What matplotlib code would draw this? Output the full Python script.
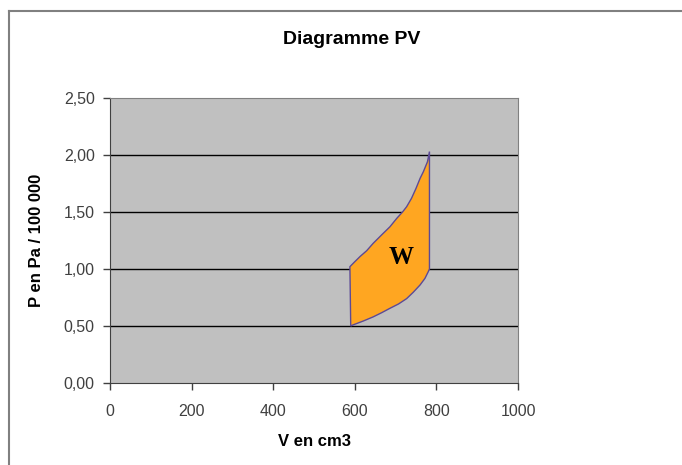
import matplotlib
matplotlib.use("Agg")
import matplotlib.pyplot as plt
from matplotlib.lines import Line2D

# cycle points (V in cm3, P in Pa / 100 000)
v_cycle = [590, 596, 621, 645, 666, 686, 707, 727, 743, 760, 772, 780, 783,
           783, 778, 768, 760, 750, 739, 727, 717, 703, 686, 666, 645, 629,
           613, 600, 592, 588, 590]
p_cycle = [0.50, 0.51, 0.544, 0.58, 0.617, 0.655, 0.693, 0.74, 0.795, 0.86,
           0.918, 0.976, 1.00,
           2.03, 1.94, 1.853, 1.795, 1.707, 1.62, 1.546, 1.50, 1.445, 1.37,
           1.30, 1.225, 1.16, 1.11, 1.064, 1.035, 1.02, 0.50]

x_ticks = [0, 200, 400, 600, 800, 1000]
y_ticks = [0.0, 0.5, 1.0, 1.5, 2.0, 2.5]
y_tick_labels = ["0,00", "0,50", "1,00", "1,50", "2,00", "2,50"]

plt.rcParams['font.family'] = ['Liberation Sans', 'DejaVu Sans']

fig = plt.figure(figsize=(6.82, 4.65), dpi=100)
ax = fig.add_axes([110 / 682, 1 - 383 / 465, 408 / 682, 285 / 465])
ax.set_facecolor('#c0c0c0')

ax.fill(v_cycle, p_cycle, facecolor='#ffa621', edgecolor='#5c4a96',
        linewidth=1.0, zorder=3)
ax.text(713, 1.10, "W", family=['Liberation Serif', 'DejaVu Serif'],
        fontweight='bold', fontsize=18, ha='center', va='center', zorder=4)

ax.set_xlim(0, 1000)
ax.set_ylim(0, 2.5)
ax.set_xticks(x_ticks)
ax.set_yticks(y_ticks)
ax.set_yticklabels(y_tick_labels)
for y in y_ticks[1:-1]:
    ax.axhline(y, color='#000000', linewidth=1.0, zorder=2)

ax.tick_params(axis='both', direction='out', length=5, width=1,
               color='#404040', labelsize=11.5, labelcolor='#404040')
ax.tick_params(axis='y', pad=6)
ax.tick_params(axis='x', pad=10)

for side in ['top', 'right']:
    ax.spines[side].set_color('#808080')
for side in ['left', 'bottom']:
    ax.spines[side].set_color('#404040')

ax.set_xlabel("V en cm3", fontsize=12, fontweight='bold')
ax.set_ylabel("P en Pa / 100 000", fontsize=12, fontweight='bold')
ax.xaxis.set_label_coords(0.5, -0.207)
ax.yaxis.set_label_coords(-0.179, 0.5)
ax.xaxis.label.set_va('center')
ax.yaxis.label.set_va('center')

fig.text(352 / 682, 1 - 40 / 465, "Diagramme PV", fontsize=14,
         fontweight='bold', ha='center', va='center')

# chart frame (left and top edges visible)
fig.add_artist(Line2D([9 / 682, 9 / 682], [0, 1 - 11 / 465],
                      color='#808080', linewidth=1.5))
fig.add_artist(Line2D([9 / 682, 1], [1 - 11 / 465, 1 - 11 / 465],
                      color='#808080', linewidth=1.5))

fig.savefig("out.png", dpi=100)
